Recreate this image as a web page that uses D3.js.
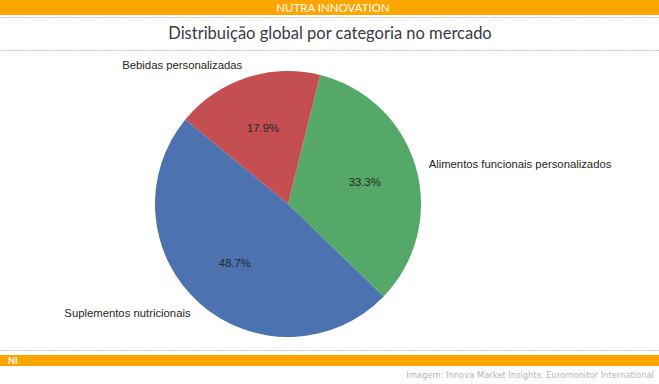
<!DOCTYPE html>
<html>
<head>
<meta charset="utf-8">
<script src="https://cdn.jsdelivr.net/npm/d3@7"></script>
<style>
  body { margin: 0; background: #fff; }
  svg { display: block; }
</style>
</head>
<body>
<div id="chart"></div>
<script>
const width = 659;
const height = 384;

// data
const categories = ["Suplementos nutricionais", "Alimentos funcionais personalizados", "Bebidas personalizadas"];
const shares = [48.7, 33.3, 17.9];
const colors = ["#4c72b0", "#55a868", "#c44e52"];

const title = "Distribuição global por categoria no mercado";
const brand = "NUTRA INNOVATION";
const source = "Imagem: Innova Market Insights, Euromonitor International";

const orange = "#ffa500";
const cx = 288, cy = 204, radius = 133;

const svg = d3.select("#chart").append("svg")
  .attr("width", width)
  .attr("height", height);

// top banner
svg.append("rect").attr("x", 0).attr("y", 0).attr("width", width).attr("height", 15).attr("fill", orange);
svg.append("text")
  .attr("x", 333).attr("y", 11.5)
  .attr("text-anchor", "middle")
  .attr("fill", "#fff")
  .attr("font-family", "Lato, sans-serif")
  .attr("font-size", 11.5)
  .text(brand);

// dotted separators
const dotted = (y) => svg.append("line")
  .attr("x1", 0).attr("x2", width).attr("y1", y).attr("y2", y)
  .attr("stroke", "#c8c8c8").attr("stroke-width", 1)
  .attr("stroke-dasharray", "2,1");
dotted(17.5);
dotted(50.5);
dotted(350.5);

svg.append("text")
  .attr("x", 330).attr("y", 39)
  .attr("text-anchor", "middle")
  .attr("fill", "#3a3a4a")
  .attr("font-family", "Lato, sans-serif")
  .attr("font-size", 16.5)
  .text(title);

// pie, drawn counter-clockwise like the original
const pie = d3.pie().sort(null)
  .startAngle(-50.5 * Math.PI / 180)
  .endAngle((-50.5 - 360) * Math.PI / 180);

const arcs = pie(shares);
const arc = d3.arc().innerRadius(0).outerRadius(radius);
const total = d3.sum(shares);

const g = svg.append("g").attr("transform", `translate(${cx},${cy})`);

g.selectAll("path")
  .data(arcs)
  .join("path")
  .attr("d", arc)
  .attr("fill", (d, i) => colors[i]);

// percentage labels at 0.6 r
g.selectAll("text.pct")
  .data(arcs)
  .join("text")
  .attr("class", "pct")
  .attr("x", (d) => 0.6 * radius * Math.sin((d.startAngle + d.endAngle) / 2))
  .attr("y", (d) => -0.6 * radius * Math.cos((d.startAngle + d.endAngle) / 2))
  .attr("dy", "0.35em")
  .attr("text-anchor", "middle")
  .attr("fill", "#262626")
  .attr("font-family", "'Liberation Sans', Arial, sans-serif")
  .attr("font-size", 11.3)
  .text((d) => (d.value / total * 100).toFixed(1) + "%");

// category labels at 1.1 r
g.selectAll("text.cat")
  .data(arcs)
  .join("text")
  .attr("class", "cat")
  .attr("x", (d) => 1.1 * radius * Math.sin((d.startAngle + d.endAngle) / 2))
  .attr("y", (d) => -1.1 * radius * Math.cos((d.startAngle + d.endAngle) / 2))
  .attr("dy", "0.35em")
  .attr("text-anchor", (d) => Math.sin((d.startAngle + d.endAngle) / 2) < 0 ? "end" : "start")
  .attr("fill", "#262626")
  .attr("font-family", "'Liberation Sans', Arial, sans-serif")
  .attr("font-size", 11.3)
  .text((d, i) => categories[i]);

// bottom banner
svg.append("rect").attr("x", 0).attr("y", 355).attr("width", width).attr("height", 11).attr("fill", orange);
svg.append("text")
  .attr("x", 8).attr("y", 364)
  .attr("fill", "#fff")
  .attr("font-family", "Lato, sans-serif")
  .attr("font-weight", "bold")
  .attr("font-size", 9)
  .text("NI");

svg.append("text")
  .attr("x", 654).attr("y", 378)
  .attr("text-anchor", "end")
  .attr("fill", "#b4b4b4")
  .attr("font-family", "'DejaVu Sans Condensed', 'DejaVu Sans', sans-serif")
  .attr("font-size", 9.3)
  .text(source);
</script>
</body>
</html>
